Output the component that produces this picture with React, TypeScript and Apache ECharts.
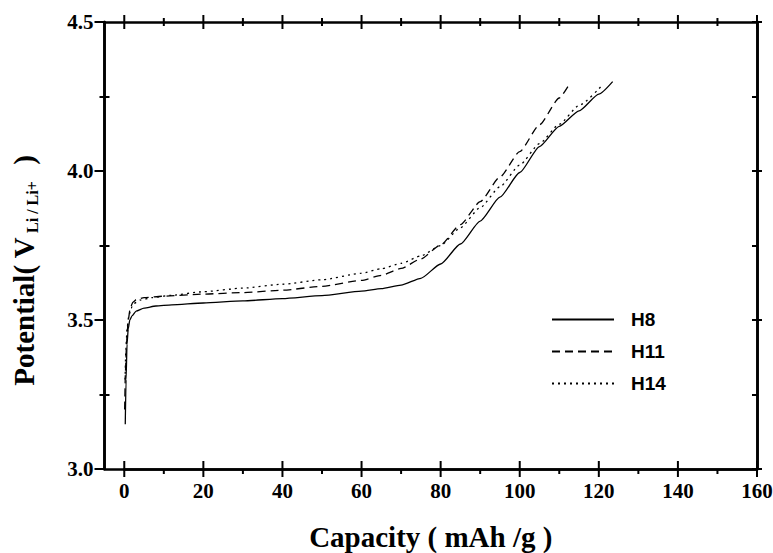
import React, { useEffect, useRef } from "react";
import * as echarts from "echarts";

// Capacity (mAh/g) and potential (V)
const seriesNames = ["H8", "H11", "H14"];

const h8Capacity = [0.25, 0.45, 0.7, 1, 1.4, 2, 3, 5, 8, 12, 20, 30, 40, 50, 60, 65, 70, 75, 80, 85, 90, 95, 100, 105, 110, 115, 120, 123.5];
const h8Potential = [3.15, 3.3, 3.42, 3.47, 3.5, 3.515, 3.53, 3.54, 3.547, 3.551, 3.557, 3.564, 3.572, 3.582, 3.597, 3.605, 3.617, 3.64, 3.688, 3.755, 3.832, 3.912, 3.995, 4.082, 4.15, 4.202, 4.258, 4.3];

const h11Capacity = [0.1, 0.3, 0.6, 1, 1.5, 2.2, 3, 5, 10, 20, 30, 40, 50, 60, 65, 70, 75, 80, 85, 90, 95, 100, 105, 110, 112.8];
const h11Potential = [3.2, 3.33, 3.43, 3.5, 3.54, 3.56, 3.568, 3.575, 3.58, 3.587, 3.592, 3.6, 3.613, 3.633, 3.65, 3.673, 3.705, 3.752, 3.82, 3.897, 3.98, 4.065, 4.155, 4.245, 4.297];

const h14Capacity = [0.2, 0.4, 0.7, 1.1, 1.7, 2.5, 4, 7, 12, 20, 30, 40, 50, 60, 65, 70, 75, 80, 85, 90, 95, 100, 105, 110, 115, 121];
const h14Potential = [3.3, 3.4, 3.47, 3.51, 3.54, 3.556, 3.567, 3.575, 3.583, 3.595, 3.607, 3.62, 3.635, 3.657, 3.672, 3.69, 3.715, 3.75, 3.81, 3.877, 3.947, 4.02, 4.092, 4.157, 4.22, 4.29];

// axis ticks
const xMajorTicks = [0, 20, 40, 60, 80, 100, 120, 140, 160];
const xMinorTicks = [10, 30, 50, 70, 90, 110, 130, 150];
const xFrameMin = -5;
const xMin = 0;
const xMax = 160;
const xTickStep = 20;
const yMin = 3.0;
const yMax = 4.5;
const yTickStep = 0.5;

const zip = (xs: number[], ys: number[]) => xs.map((x, i) => [x, ys[i]]);

export default function App() {
  const ref = useRef<HTMLDivElement>(null);

  useEffect(() => {
    if (!ref.current) return;
    const chart = echarts.init(ref.current, null, { renderer: "svg" });

    const W = 773;
    const L = 104.5;
    const R = 16;
    const T = 22;
    const B = 84;
    const plotW = W - L - R;
    const shift = ((xMin - xFrameMin) / (xMax - xFrameMin)) * plotW;
    const L1 = L + shift;

    const black = "#000";
    const serif = "Liberation Serif";
    const lineAxis = { show: true, onZero: false, lineStyle: { color: black, width: 2.6 } };
    const tickLabel = { fontFamily: serif, fontWeight: "bold", fontSize: 21, color: black };
    const tickLine = () => ({ color: black, width: 2 });

    const yTickAxis = (position: string, offset: number, inside: boolean, length: number, minorLen: number, extra: any = {}) => ({
      gridIndex: 1, type: "value", position, offset, min: yMin, max: yMax, interval: yTickStep,
      axisLine: { ...lineAxis },
      axisTick: { show: length > 0, inside, length: Math.max(length, 1), lineStyle: tickLine() },
      minorTick: { show: minorLen > 0, splitNumber: 2, length: Math.max(minorLen, 1), lineStyle: tickLine() },
      axisLabel: { show: false },
      splitLine: { show: false },
      ...extra,
    });

    const option: any = {
      animation: false,
      backgroundColor: "#fff",
      grid: [
        { left: L, right: R, top: T, bottom: B, outerBoundsMode: "none", containLabel: false },
        { left: L1, right: R, top: T, bottom: B, outerBoundsMode: "none", containLabel: false },
      ],
      legend: {
        data: seriesNames,
        orient: "vertical",
        left: 546,
        top: 305,
        padding: 5,
        itemWidth: 62,
        itemHeight: 14,
        itemGap: 13,
        itemStyle: { opacity: 0 },
        textStyle: { fontFamily: "Liberation Sans", fontWeight: "bold", fontSize: 19, color: black, padding: [0, 0, 0, 12] },
      },
      xAxis: [
        {
          gridIndex: 0, type: "value", position: "bottom", min: xFrameMin, max: xMax,
          axisLine: { ...lineAxis }, axisTick: { show: false }, axisLabel: { show: false }, splitLine: { show: false },
          name: "Capacity ( mAh /g )", nameLocation: "middle", nameGap: 53,
          nameTextStyle: { fontFamily: serif, fontWeight: "bold", fontSize: 29, color: black },
        },
        {
          gridIndex: 0, type: "value", position: "top", min: xFrameMin, max: xMax,
          axisLine: { ...lineAxis }, axisTick: { show: false }, axisLabel: { show: false }, splitLine: { show: false },
        },
        {
          gridIndex: 1, type: "value", position: "bottom", min: xMin, max: xMax, interval: xTickStep,
          axisLine: { ...lineAxis },
          axisTick: { show: false },
          axisLabel: { ...tickLabel, show: true, margin: 11, formatter: (v: number) => String(v) },
          splitLine: { show: false },
        },
      ],
      yAxis: [
        { gridIndex: 0, type: "value", show: false, min: yMin, max: yMax, axisLine: { show: false, onZero: false } },
        yTickAxis("left", shift, false, 10, 5, {
          axisLabel: { ...tickLabel, show: true, margin: 11, formatter: (v: number) => v.toFixed(1) },
          name: "{a|Potential( V}{s|Li / Li+}{a|  )}",
          nameLocation: "middle",
          nameGap: 64,
          nameRotate: 90,
          nameTextStyle: {
            padding: [0, 50, 0, 0],
            rich: {
              a: { fontFamily: serif, fontWeight: "bold", fontSize: 29, color: black, lineHeight: 34, verticalAlign: "middle" },
              s: { fontFamily: serif, fontWeight: "bold", fontSize: 16, color: black, lineHeight: 34, verticalAlign: "bottom", padding: [0, 2, 0, 4] },
            },
          },
        }),
        yTickAxis("left", shift, true, 0, 5),
        yTickAxis("right", 0, false, 5, 0),
        yTickAxis("right", 0, true, 5, 5),
      ],
      series: [
        {
          name: seriesNames[0], type: "line", xAxisIndex: 2, yAxisIndex: 1,
          data: zip(h8Capacity, h8Potential), symbol: "none", smooth: 0.2, smoothMonotone: "x",
          lineStyle: { color: black, width: 1.3, type: "solid" },
          itemStyle: { color: black },
        },
        {
          name: seriesNames[1], type: "line", xAxisIndex: 2, yAxisIndex: 1,
          data: zip(h11Capacity, h11Potential), symbol: "none", smooth: 0.2, smoothMonotone: "x",
          lineStyle: { color: black, width: 1.3, type: [8, 5] },
          itemStyle: { color: black },
        },
        {
          name: seriesNames[2], type: "line", xAxisIndex: 2, yAxisIndex: 1,
          data: zip(h14Capacity, h14Potential), symbol: "none", smooth: 0.2, smoothMonotone: "x",
          lineStyle: { color: black, width: 1.3, type: [2, 4] },
          itemStyle: { color: black },
        },
      ],
    };

    chart.setOption(option);

    // x-axis tick marks, positioned through the chart's own x/y scales
    const xPx = (v: number) => chart.convertToPixel({ xAxisIndex: 2 }, v) as number;
    const yBottom = chart.convertToPixel({ yAxisIndex: 1 }, yMin) as number;
    const yTop = chart.convertToPixel({ yAxisIndex: 1 }, yMax) as number;
    const tickStyle = { stroke: black, lineWidth: 2 };
    const mk = (x: number, y1: number, y2: number) => ({
      type: "line",
      z: 100,
      silent: true,
      shape: { x1: x, y1, x2: x, y2 },
      style: tickStyle,
    });
    const elements: any[] = [];
    xMajorTicks.forEach((v) => {
      const x = xPx(v);
      elements.push(mk(x, yBottom - 8, yBottom + 8));
      elements.push(mk(x, yTop - 7, yTop + 7));
    });
    xMinorTicks.forEach((v) => {
      const x = xPx(v);
      elements.push(mk(x, yBottom, yBottom + 5));
      elements.push(mk(x, yTop - 4, yTop + 4));
    });
    chart.setOption({ graphic: { elements } });

    return () => chart.dispose();
  }, []);

  return (
    <div
      ref={ref}
      style={{ position: "fixed", left: 0, top: 0, width: 773, height: 553, background: "#fff" }}
    />
  );
}
